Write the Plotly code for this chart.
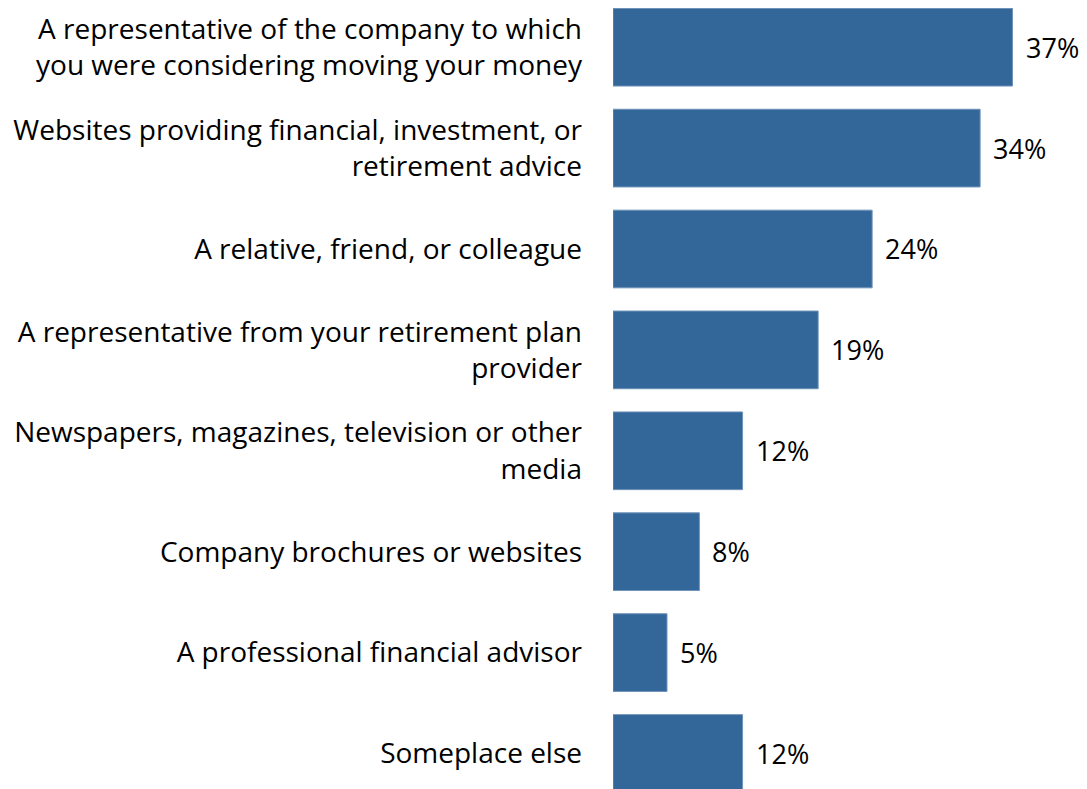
import plotly.graph_objects as go

categories = [
    "A representative of the company to which<br>you were considering moving your money",
    "Websites providing financial, investment, or<br>retirement advice",
    "A relative, friend, or colleague",
    "A representative from your retirement plan<br>provider",
    "Newspapers, magazines, television or other<br>media",
    "Company brochures or websites",
    "A professional financial advisor",
    "Someplace else",
]
values = [37, 34, 24, 19, 12, 8, 5, 12]
labels = [f"{v}%" for v in values]

bar_color = "#336699"
font_family = "'Open Sans', Lato, sans-serif"

fig = go.Figure(go.Bar(
    x=values,
    y=categories,
    orientation="h",
    marker=dict(color=bar_color, line=dict(color="#6f93b9", width=1)),
    hoverinfo="skip",
))

for cat, v, lab in zip(categories, values, labels):
    fig.add_annotation(
        x=v, y=cat, text=lab, showarrow=False,
        xanchor="left", yanchor="middle", xshift=11,
        font=dict(size=27, color="black", family=font_family),
    )

# page body has an 8px margin, so the figure is drawn at (8, 8)
fig.update_layout(
    width=1079, height=781,
    margin=dict(l=605, r=0, t=0, b=0),
    paper_bgcolor="white", plot_bgcolor="white",
    bargap=0.23,
    showlegend=False,
    font=dict(family=font_family, size=28, color="black"),
)
fig.update_xaxes(range=[0, 43.9], visible=False, showgrid=False, zeroline=False)
fig.update_yaxes(
    range=[7.352, -0.3885], showgrid=False, zeroline=False, showline=False,
    ticks="", ticklabelstandoff=30,
    tickfont=dict(size=28, color="black", family=font_family),
)

fig.write_html("out.html")
